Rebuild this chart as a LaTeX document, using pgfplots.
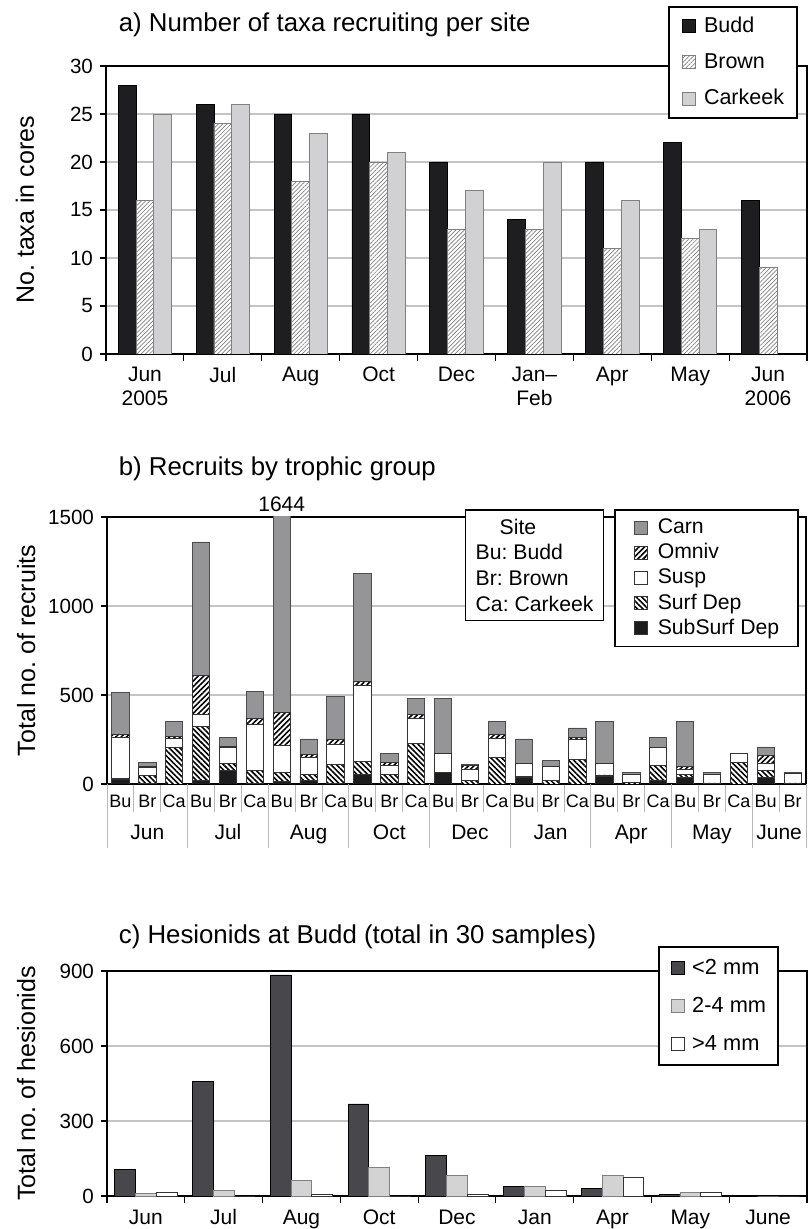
\documentclass[border=0pt]{standalone}
\usepackage{fontspec}
\setmainfont{Liberation Sans}
\usepackage{pgfplots}
\usepackage{pgfplotstable}
\pgfplotsset{compat=1.18}
\usetikzlibrary{patterns.meta}

\definecolor{budd}{HTML}{1E1E21}
\definecolor{cark}{HTML}{D1D1D3}
\definecolor{carn}{HTML}{959598}
\definecolor{subs}{HTML}{1C1C1E}
\definecolor{small}{HTML}{48474C}
\definecolor{mid}{HTML}{D3D3D3}
\definecolor{gridc}{HTML}{C4C4C4}

\pgfplotstableread{
x sub surf susp omn carn
0 25 8 227 21 232
1 3 47 45 5 20
2 0 206 52 10 82
3 22 303 65 218 752
4 77 40 90 4 50
5 3 72 261 31 155
6 12 52 151 185 1244
7 22 33 96 13 89
8 4 104 117 24 242
9 55 73 425 22 608
10 3 50 51 15 55
11 0 226 140 23 90
12 64 0 110 0 305
13 0 19 64 21 6
14 0 151 106 22 70
15 37 5 75 0 136
16 0 19 79 0 32
17 0 140 109 11 55
18 45 6 66 0 232
19 0 8 47 0 10
20 23 83 100 0 54
21 36 19 28 15 251
22 3 3 49 0 9
23 0 121 53 0 0
24 36 38 43 45 46
25 3 3 51 0 7
}\trophic

\pgfplotsset{
 sq/.style={legend image code/.code={\draw[##1, line width=0.5pt] (0pt,-3.25pt) rectangle (6.5pt,3.25pt);}},
 myaxis/.style={
  scale only axis,
  anchor=south west,
  clip mode=individual,
  axis line style={line width=0.8pt},
  tick align=outside, tick pos=left,
  major tick length=3pt,
  minor tick length=3.5pt,
  ymajorgrids, major grid style={gridc, line width=0.6pt},
  every major y tick/.append style={black, line width=0.6pt},
  every major x tick/.append style={draw=none},
  every minor x tick/.append style={black, line width=0.6pt},
  /pgf/number format/assume math mode=true,
  /pgf/number format/1000 sep={},
  yticklabel style={font=\fontsize{10.3}{12}\selectfont},
  xticklabel style={font=\fontsize{10.5}{12}\selectfont, align=center},
  ylabel style={font=\fontsize{12.5}{15}\selectfont, at={(axis description cs:-0.1155,0.5)}, anchor=center},
  legend cell align=left,
 }
}

\begin{document}
\frenchspacing
\begin{tikzpicture}
\useasboundingbox (0,0) rectangle (404.5pt,614.5pt);

% titles
\node[anchor=base west, font=\fontsize{12.9}{15}\selectfont, inner sep=0pt] at (59.25pt,598.5pt) {a) Number of taxa recruiting per site};
\node[anchor=base west, font=\fontsize{12.9}{15}\selectfont, inner sep=0pt] at (59.25pt,376.5pt) {b) Recruits by trophic group};
\node[anchor=base west, font=\fontsize{12.9}{15}\selectfont, inner sep=0pt] at (59.25pt,142.5pt) {c) Hesionids at Budd (total in 30 samples)};

% ---------- panel a
\begin{axis}[myaxis,
  at={(53pt,437.5pt)}, width=350.5pt, height=144pt,
  ymin=0, ymax=30, ytick={0,5,...,30},
  xmin=-0.5, xmax=8.5, xtick={0,...,8},
  xticklabels={{Jun\\2005},{Jul\\\strut},{Aug\\\strut},{Oct\\\strut},{Dec\\\strut},{Jan\textendash\\Feb},{Apr\\\strut},{May\\\strut},{Jun\\2006}},
  minor xtick={-0.5,0.5,...,8.5},
  ybar=0pt, bar width=8.9pt,
  ylabel={No. taxa in cores},
  legend style={at={(0.802,1.208)}, anchor=north west, font=\fontsize{10.75}{13}\selectfont,
    draw=black, line width=0.8pt, fill=white, inner xsep=6.5pt, inner ysep=5pt, row sep=9pt,
    nodes={inner sep=0pt}, /tikz/every odd column/.append style={column sep=4pt}},
]
\addplot[sq, fill=budd, draw=black, line width=0.4pt] coordinates {(0,28) (1,26) (2,25) (3,25) (4,20) (5,14) (6,20) (7,22) (8,16)};
\addplot[sq, fill=white, draw=gray, line width=0.4pt, postaction={pattern={Lines[angle=45,distance=1.5pt,line width=0.35pt]}, pattern color=gray}] coordinates {(0,16) (1,24) (2,18) (3,20) (4,13) (5,13) (6,11) (7,12) (8,9)};
\addplot[sq, fill=cark, draw=gray, line width=0.4pt] coordinates {(0,25) (1,26) (2,23) (3,21) (4,17) (5,20) (6,16) (7,13)};
\legend{Budd, Brown, Carkeek}
\end{axis}

% ---------- panel b
\begin{axis}[myaxis,
  at={(53.5pt,222.5pt)}, width=349.5pt, height=133.5pt,
  ymin=0, ymax=1500, ytick={0,500,1000,1500},
  xmin=-0.5, xmax=25.5, xtick={0,...,25},
  xticklabels={Bu,Br,Ca,Bu,Br,Ca,Bu,Br,Ca,Bu,Br,Ca,Bu,Br,Ca,Bu,Br,Ca,Bu,Br,Ca,Bu,Br,Ca,Bu,Br},
  xticklabel style={font=\fontsize{9}{11}\selectfont, text height=6.6pt, text depth=0pt, yshift=1.5pt},
  minor xtick={-0.5,0.5,...,25.5}, minor tick length=14pt,
  every minor x tick/.append style={draw=gray!55, line width=0.5pt},
  ybar stacked, bar width=8.65pt,
  ylabel={Total no. of recruits},
  reverse legend,
  legend style={at={(0.7253,1.03)}, anchor=north west, font=\fontsize{10.6}{12.5}\selectfont,
    draw=black, line width=0.8pt, fill=white, inner xsep=9.5pt, inner ysep=4.5pt, row sep=3.5pt,
    nodes={inner sep=0pt}, /tikz/every odd column/.append style={column sep=5pt}},
]
\addplot[sq, fill=subs, draw=black!80, line width=0.4pt] table[x=x,y=sub]{\trophic};
\addplot[sq, fill=white, draw=black!80, line width=0.4pt, postaction={pattern={Lines[angle=-45,distance=1.9pt,line width=0.8pt]}, pattern color=black}] table[x=x,y=surf]{\trophic};
\addplot[sq, fill=white, draw=black!80, line width=0.4pt] table[x=x,y=susp]{\trophic};
\addplot[sq, fill=white, draw=black!80, line width=0.4pt, postaction={pattern={Lines[angle=45,distance=1.9pt,line width=0.8pt]}, pattern color=black}] table[x=x,y=omn]{\trophic};
\addplot[sq, fill=carn, draw=black!70, line width=0.4pt] table[x=x,y=carn]{\trophic};
\legend{SubSurf Dep, Surf Dep, Susp, Omniv, Carn}
\pgfplotsinvokeforeach{-0.5,2.5,5.5,8.5,11.5,14.5,17.5,20.5,23.5,25.5}{
  \draw[gray!55, line width=0.5pt] (axis cs:#1,0) -- ++(0pt,-32pt);
}
\node[font=\fontsize{10.5}{12.5}\selectfont, anchor=base, yshift=-28pt] at (axis cs:1,0) {Jun};
\node[font=\fontsize{10.5}{12.5}\selectfont, anchor=base, yshift=-28pt] at (axis cs:4,0) {Jul};
\node[font=\fontsize{10.5}{12.5}\selectfont, anchor=base, yshift=-28pt] at (axis cs:7,0) {Aug};
\node[font=\fontsize{10.5}{12.5}\selectfont, anchor=base, yshift=-28pt] at (axis cs:10,0) {Oct};
\node[font=\fontsize{10.5}{12.5}\selectfont, anchor=base, yshift=-28pt] at (axis cs:13,0) {Dec};
\node[font=\fontsize{10.5}{12.5}\selectfont, anchor=base, yshift=-28pt] at (axis cs:16,0) {Jan};
\node[font=\fontsize{10.5}{12.5}\selectfont, anchor=base, yshift=-28pt] at (axis cs:19,0) {Apr};
\node[font=\fontsize{10.5}{12.5}\selectfont, anchor=base, yshift=-28pt] at (axis cs:22,0) {May};
\node[font=\fontsize{10.5}{12.5}\selectfont, anchor=base, yshift=-28pt] at (axis cs:24.5,0) {June};
\node[font=\fontsize{10.5}{12.5}\selectfont, anchor=base, yshift=2.5pt] at (axis cs:6,1500) {1644};
\node[draw=black, line width=0.8pt, fill=white, anchor=north west, align=left,
  font=\fontsize{10.6}{12.85}\selectfont, inner xsep=5pt, inner ysep=4.5pt]
  at (rel axis cs:0.512,1.03) {\hspace*{12pt}Site\\Bu: Budd\\Br: Brown\\Ca: Carkeek};
\end{axis}

% ---------- panel c
\begin{axis}[myaxis,
  at={(53.5pt,16.5pt)}, width=350pt, height=112.5pt,
  ymin=0, ymax=900, ytick={0,300,600,900},
  xmin=-0.5, xmax=8.5, xtick={0,...,8},
  xticklabels={Jun,Jul,Aug,Oct,Dec,Jan,Apr,May,June},
  xticklabel style={text height=7.7pt, text depth=2.2pt},
  minor xtick={-0.5,0.5,...,8.5},
  ybar=0pt, bar width=10.4pt,
  ylabel={Total no. of hesionids},
  legend style={at={(0.787,1.111)}, anchor=north west, font=\fontsize{10.9}{13}\selectfont,
    draw=black, line width=0.8pt, fill=white, inner xsep=6pt, inner ysep=6pt, row sep=10pt,
    nodes={inner sep=0pt}, /tikz/every odd column/.append style={column sep=3.75pt}},
]
\addplot[sq, fill=small, draw=black, line width=0.4pt] coordinates {(0,107) (1,459) (2,884) (3,368) (4,162) (5,37) (6,29) (7,7) (8,0)};
\addplot[sq, fill=mid, draw=gray, line width=0.4pt] coordinates {(0,9) (1,23) (2,61) (3,113) (4,84) (5,37) (6,84) (7,13) (8,0)};
\addplot[sq, fill=white, draw=black!80, line width=0.4pt] coordinates {(0,15) (1,0) (2,8) (3,0) (4,8) (5,21) (6,76) (7,13) (8,0)};
\legend{<2 mm, 2-4 mm, >4 mm}
\end{axis}
\end{tikzpicture}
\end{document}
